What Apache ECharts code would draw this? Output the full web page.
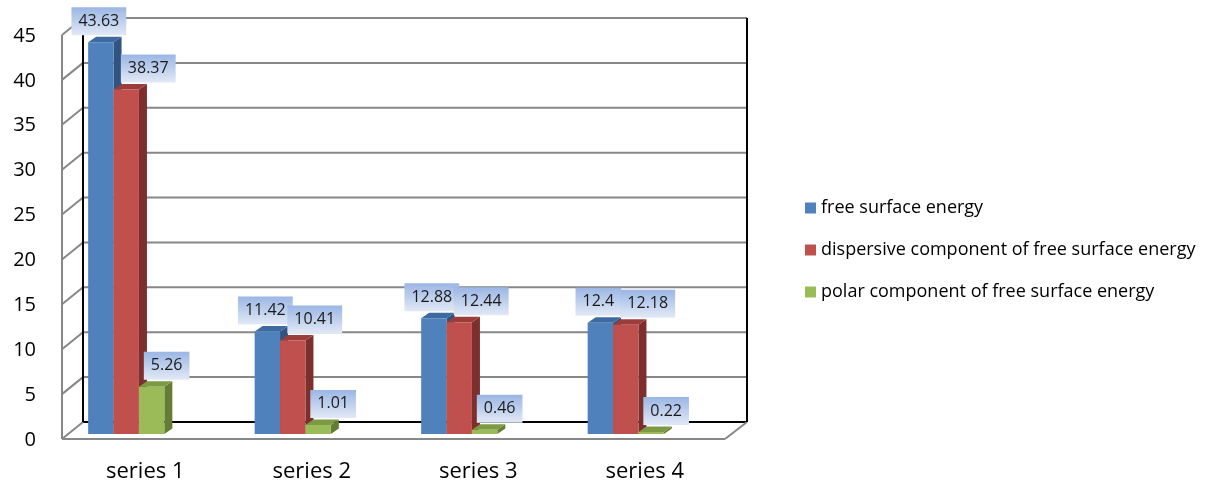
<!DOCTYPE html>
<html>
<head>
<meta charset="utf-8">
<script src="https://cdn.jsdelivr.net/npm/echarts@6/dist/echarts.min.js"></script>
<style>html,body{margin:0;padding:0;background:#fff}#c{width:1209px;height:483px}</style>
</head>
<body>
<div id="c"></div>
<script>
const categories = ['series 1', 'series 2', 'series 3', 'series 4'];
const seriesNames = ['free surface energy', 'dispersive component of free surface energy', 'polar component of free surface energy'];
const freeSurface = [43.63, 11.42, 12.88, 12.4];
const dispersive = [38.37, 10.41, 12.44, 12.18];
const polar = [5.26, 1.01, 0.46, 0.22];
const yTicks = [0, 5, 10, 15, 20, 25, 30, 35, 40, 45];

const FONT = '"Open Sans", "Liberation Sans", sans-serif';
const palettes = [
  { front: '#4f81bd', top: '#3d6aa1', side: '#30547f' },
  { front: '#c0504d', top: '#9d3d3b', side: '#7c2f2d' },
  { front: '#9bbb59', top: '#7c9a42', side: '#647d34' }
];
const labelShift = [-2, 22, 15];
const depthX = 8, depthY = -5.5;

function wallRender(params, api) {
  const cs = params.coordSys;
  const fl = cs.x + 19, fr = cs.x + cs.width + 16, fdy = 5;
  const bl = cs.x + 40, br = cs.x + cs.width + 38, bdy = -12;
  const children = [];
  const grey = { stroke: '#878787', lineWidth: 2 };
  const maxV = yTicks[yTicks.length - 1];
  yTicks.forEach(function (v) {
    const y = api.coord([0, v])[1];
    children.push({ type: 'line', shape: { x1: bl, y1: y + bdy, x2: br, y2: y + bdy },
      style: v === 0 ? { stroke: '#000', lineWidth: 2 } : grey });
    children.push({ type: 'line', shape: { x1: fl, y1: y + fdy, x2: bl, y2: y + bdy }, style: grey });
    children.push({ type: 'text', style: {
      text: String(v), x: cs.x - 7, y: y + fdy + 1, align: 'right', verticalAlign: 'middle',
      fontSize: 20, fontFamily: FONT, fill: '#000' } });
  });
  const y0 = api.coord([0, 0])[1];
  const yTop = api.coord([0, maxV])[1];
  children.push({ type: 'line', shape: { x1: fl, y1: y0 + fdy, x2: fl, y2: yTop + fdy }, style: grey });
  children.push({ type: 'line', shape: { x1: fl, y1: y0 + fdy, x2: fr, y2: y0 + fdy }, style: grey });
  children.push({ type: 'line', shape: { x1: fr, y1: y0 + fdy, x2: br, y2: y0 + bdy }, style: grey });
  children.push({ type: 'line', shape: { x1: bl, y1: y0 + bdy, x2: bl, y2: yTop + bdy }, style: { stroke: '#000', lineWidth: 2 } });
  children.push({ type: 'line', shape: { x1: br, y1: y0 + bdy, x2: br, y2: yTop + bdy }, style: { stroke: '#000', lineWidth: 2 } });
  return { type: 'group', children: children };
}

function barRenderer(sIdx) {
  return function (params, api) {
    const i = api.value(0);
    const v = api.value(1);
    const base = api.coord([i, 0]);
    const top = api.coord([i, v]);
    const bandW = api.size([1, 0])[0];
    const bw = bandW * 0.1525;
    const x0 = base[0] - 1.5 * bw + sIdx * bw;
    const x1 = x0 + bw;
    const yb = base[1], yt = top[1];
    const p = palettes[sIdx];
    const children = [
      { type: 'polygon', shape: { points: [[x1, yb], [x1 + depthX, yb + depthY], [x1 + depthX, yt + depthY], [x1, yt]] }, style: { fill: p.side } },
      { type: 'polygon', shape: { points: [[x0, yt], [x0 + depthX, yt + depthY], [x1 + depthX, yt + depthY], [x1, yt]] }, style: { fill: p.top } },
      { type: 'rect', shape: { x: x0, y: yt, width: bw, height: yb - yt }, style: { fill: p.front } },
      { type: 'text', z2: 50,
        style: {
          text: String(v), x: (x0 + x1) / 2 + labelShift[sIdx], y: yt - 7,
          align: 'center', verticalAlign: 'bottom',
          fontSize: 16, fontFamily: FONT, lineHeight: 18, fill: '#1a1a1a',
          padding: [5, 7, 5, 7],
          backgroundColor: new echarts.graphic.LinearGradient(0, 0, 0, 1, [
            { offset: 0, color: '#9bb6e4' }, { offset: 1, color: '#e2e9f6' }
          ])
        } }
    ];
    return { type: 'group', children: children };
  };
}

const seriesData = [freeSurface, dispersive, polar];

const chart = echarts.init(document.getElementById('c'), null, { renderer: 'canvas' });
const series = [{
  type: 'custom', name: '__walls', silent: true, z: 1,
  renderItem: wallRender, data: [[0, 0]], encode: { x: 0, y: 1 }
}];
seriesData.forEach(function (arr, s) {
  series.push({
    type: 'custom', name: seriesNames[s], z: 2 + s,
    itemStyle: { color: palettes[s].front },
    renderItem: barRenderer(s),
    encode: { x: 0, y: 1 },
    data: arr.map(function (v, i) { return [i, v]; })
  });
});

chart.setOption({
  animation: false,
  backgroundColor: '#fff',
  grid: { left: 43, right: 500, top: 30, bottom: 49, containLabel: false, outerBoundsMode: 'none' },
  xAxis: {
    type: 'category', data: categories,
    axisLine: { show: false }, axisTick: { show: false }, splitLine: { show: false },
    axisLabel: { margin: 27, fontSize: 22, fontFamily: FONT, color: '#000', padding: [0, 0, 0, 38] }
  },
  yAxis: {
    type: 'value', min: 0, max: 45, interval: 5,
    axisLine: { show: false }, axisTick: { show: false }, splitLine: { show: false },
    axisLabel: { show: false }
  },
  legend: {
    data: seriesNames, orient: 'vertical', left: 800, top: 192,
    icon: 'rect', itemWidth: 11, itemHeight: 11, itemGap: 20,
    textStyle: { fontSize: 18, fontFamily: FONT, color: '#000', lineHeight: 22 }
  },
  series: series
});
</script>
</body>
</html>
